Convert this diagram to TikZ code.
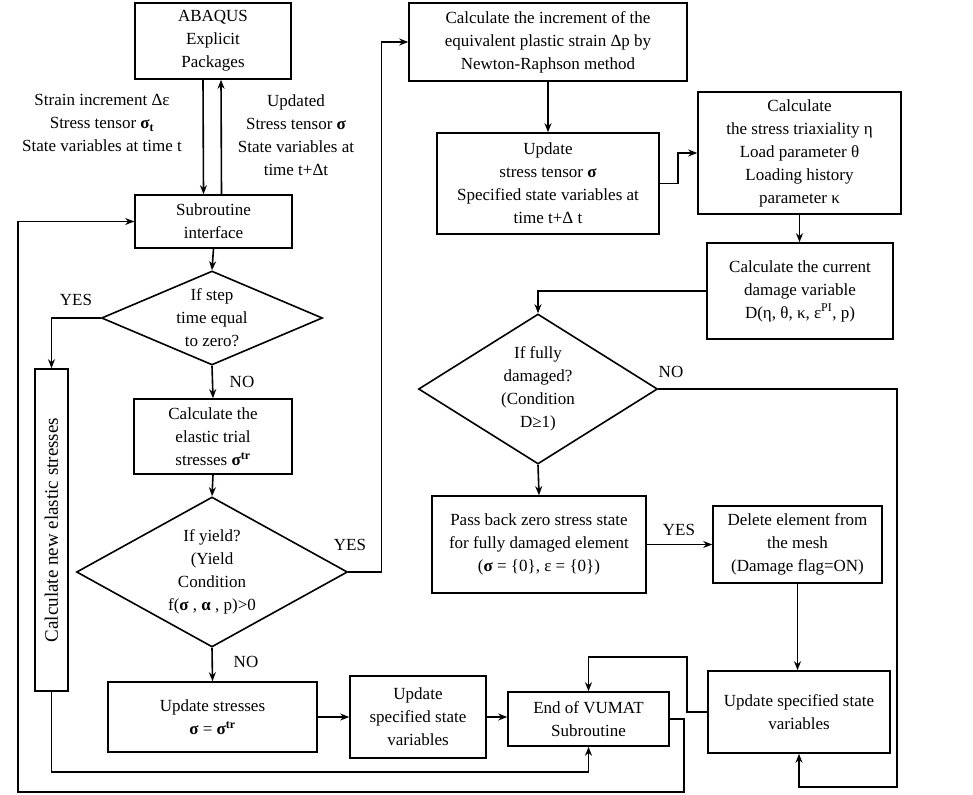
\documentclass[tikz,border=0pt]{standalone}
\usepackage{fontspec}
\setmainfont{Liberation Serif}
\usetikzlibrary{positioning, arrows.meta, shapes.geometric}
\newcommand{\bsig}{\textbf{σ}}
\begin{document}
\begin{tikzpicture}[x=1pt, y=-1pt, font=\fontsize{17}{23}\selectfont,
  box/.style={draw, line width=1.6pt, align=center, inner sep=2pt},
  dec/.style={draw, diamond, line width=1.6pt, align=center, inner sep=-30pt},
  flow/.style={line width=1.6pt, -{Stealth[length=9pt, width=7pt]}},
  lbl/.style={align=center, inner sep=0pt}]
\useasboundingbox (0,0) rectangle (973,794);
% left column
\node[box, minimum width=156pt, minimum height=76pt] (abaqus) at (213,41) {ABAQUS\\Explicit\\Packages};
\node[box, minimum width=157pt, minimum height=53pt] (sub) at (213.5,221.5) {Subroutine\\interface};
\node[dec, minimum width=221pt, minimum height=94pt] (step) at (212,318) {If step\\time equal\\to zero?};
\node[box, minimum width=158pt, minimum height=75pt] (trial) at (213,436.5) {Calculate the\\elastic trial\\stresses \bsig\textsuperscript{\textbf{tr}}};
\node[dec, minimum width=271pt, minimum height=150pt] (yield) at (212,572) {If yield?\\(Yield\\Condition\\f(\bsig\ , \textbf{α} , p)>0};
\node[box, rotate=90, minimum width=322pt, minimum height=33pt, font=\fontsize{19}{23}\selectfont] (elastic) at (51.5,530) {Calculate new elastic stresses};
\node[box, minimum width=209pt, minimum height=70pt] (updsig) at (212.5,717) {Update stresses\\\bsig\ = \bsig\textsuperscript{\textbf{tr}}};
\node[box, minimum width=136pt, minimum height=82pt] (updsv) at (418,717) {Update\\specified state\\variables};
\node[box, minimum width=161pt, minimum height=54pt] (endv) at (588.5,719) {End of VUMAT\\Subroutine};
% right column
\node[box, minimum width=278pt, minimum height=78pt] (incr) at (548,42) {Calculate the increment of the\\equivalent plastic strain Δp by\\Newton-Raphson method};
\node[box, minimum width=222pt, minimum height=101pt] (updten) at (548,183.5) {Update\\stress tensor \bsig\\Specified state variables at\\time t+Δ t};
\node[box, minimum width=203pt, minimum height=122pt] (triax) at (799.5,153) {Calculate\\the stress triaxiality η\\Load parameter θ\\Loading history\\parameter κ};
\node[box, minimum width=186pt, minimum height=96pt] (dmg) at (800,291) {Calculate the current\\damage variable\\D(η, θ, κ, ε\textsuperscript{PI}, p)};
\node[dec, minimum width=239pt, minimum height=150pt] (full) at (538,389) {If fully\\damaged?\\(Condition\\D≥1)};
\node[box, minimum width=214pt, minimum height=97pt] (pass) at (539,544.5) {Pass back zero stress state\\for fully damaged element\\(\bsig\ = \{0\}, ε = \{0\})};
\node[box, minimum width=169pt, minimum height=77pt] (del) at (797.5,544.5) {Delete element from\\the mesh\\(Damage flag=ON)};
\node[box, minimum width=182pt, minimum height=82pt] (updsv2) at (799,712) {Update specified state\\variables};
% labels
\node[lbl] (inlbl) at (102,123) {Strain increment Δε\\Stress tensor \bsig\textsubscript{\textbf{t}}\\State variables at time t};
\node[lbl] (outlbl) at (296,135) {Updated\\Stress tensor \bsig\\State variables at\\time t+Δt};
\node[lbl] (yes1) at (76,300) {YES};
\node[lbl] (no1) at (242,382) {NO};
\node[lbl] (yes2) at (350,545) {YES};
\node[lbl] (no2) at (246,662) {NO};
\node[lbl] (no3) at (671,372) {NO};
\node[lbl] (yes3) at (679,530) {YES};
\coordinate (botleft) at (18,792);
\coordinate (botright) at (897,787);
% connectors
\draw[flow] ([xshift=-10pt]abaqus.south) -- ([xshift=-10pt]sub.north);
\draw[flow] ([xshift=8pt]sub.north) -- ([xshift=8pt]abaqus.south);
\draw[flow] (sub.south) -- (step.north);
\draw[flow] (step.west) -| (elastic.east);
\draw[flow] (step.south) -- (trial.north);
\draw[flow] (trial.south) -- (yield.north);
\draw[flow] (yield.east) -- ++(33,0) |- (incr.west);
\draw[flow] (yield.south) -- (updsig.north);
\draw[flow] (updsig.east) -- (updsig.east -| updsv.west);
\draw[flow] (updsv.east) -- (updsv.east -| endv.west);
\draw[flow] (elastic.west) -- ++(0,80) -| (endv.south);
\draw[flow] (endv.east) -- ++(14,0) |- (botleft) |- (sub.west);
\draw[flow] (incr.south) -- (updten.north);
\draw[flow] (updten.east) -- ++(18,0) |- (triax.west);
\draw[flow] (triax.south) -- (triax.south |- dmg.north);
\draw[flow] (dmg.west) -| (full.north);
\draw[flow] (full.south) -- (pass.north);
\draw[flow] (pass.east) -- (pass.east -| del.west);
\draw[flow] (del.south) -- (del.south |- updsv2.north);
\draw[flow] (full.east) -| (botright) -| (updsv2.south);
\draw[flow] (updsv2.west) -- ++(-20,0) -- ++(0,-55) -| (endv.north);
\end{tikzpicture}
\end{document}
